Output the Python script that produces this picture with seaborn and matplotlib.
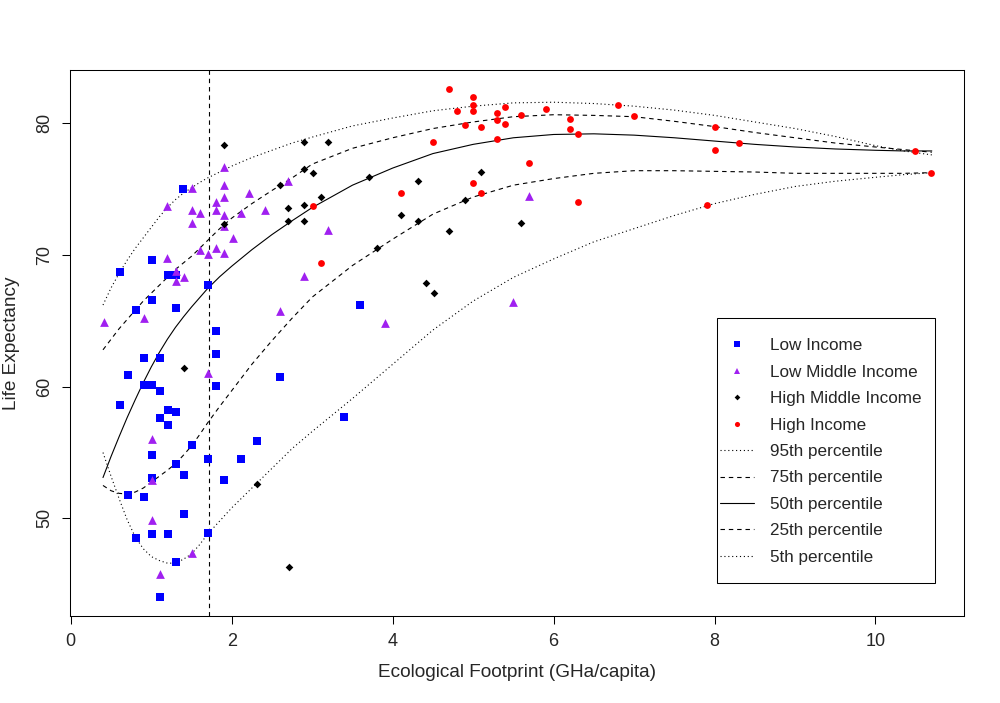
import pandas as pd
import matplotlib
matplotlib.use("Agg")
import matplotlib.pyplot as plt
from matplotlib.lines import Line2D
from matplotlib.patches import Rectangle
import seaborn as sns

# Scatter data (Ecological footprint, life expectancy)
low_x = [1.40, 0.61, 1.01, 1.21, 1.31, 1.71, 1.01, 0.81, 1.31, 1.80, 1.80, 0.91, 1.11,
         0.71, 0.91, 1.01, 1.11, 1.80, 2.60, 0.61, 1.21, 1.31, 1.11, 1.21, 1.01, 1.51,
         1.71, 2.11, 2.31, 1.31, 1.41, 1.90, 1.01, 0.71, 0.91, 1.41, 0.81, 1.01, 1.21,
         1.71, 1.31, 1.11, 3.59, 3.40]
low_y = [75.0, 68.7, 69.6, 68.45, 68.5, 67.7, 66.6, 65.8, 66.0, 64.2, 62.5, 62.2, 62.2,
         60.9, 60.15, 60.15, 59.7, 60.05, 60.7, 58.6, 58.2, 58.1, 57.6, 57.1, 54.85, 55.6,
         54.5, 54.5, 55.9, 54.1, 53.3, 52.9, 53.1, 51.8, 51.6, 50.35, 48.5, 48.8, 48.8,
         48.9, 46.7, 44.05, 66.2, 57.7]

lowmid_x = [1.90, 1.51, 1.90, 2.21, 1.80, 1.90, 1.20, 1.51, 1.61, 1.80, 1.90, 2.11, 1.51,
            1.90, 2.01, 1.61, 1.80, 1.71, 1.90, 1.20, 1.31, 1.41, 1.31, 0.41, 0.91, 2.41,
            2.70, 2.60, 2.90, 3.20, 3.90, 5.70, 5.50, 1.71, 1.01, 1.01, 1.01, 1.51, 1.11]
lowmid_y = [76.7, 75.1, 75.3, 74.7, 74.0, 74.4, 73.7, 73.4, 73.2, 73.45, 73.07, 73.2, 72.4,
            72.2, 71.3, 70.4, 70.5, 70.1, 70.15, 69.8, 68.8, 68.3, 68.0, 64.9, 65.2, 73.4,
            75.6, 65.75, 68.4, 71.9, 64.8, 74.5, 66.4, 61.05, 56.0, 52.95, 49.9, 47.4, 45.8]

highmid_x = [1.90, 2.90, 3.20, 2.90, 3.01, 2.60, 3.71, 3.11, 2.70, 2.90, 2.70, 2.90, 3.80,
             1.90, 4.31, 5.10, 4.10, 4.31, 4.90, 4.70, 5.60, 4.41, 4.51, 1.41, 2.31, 2.71]
highmid_y = [78.35, 78.55, 78.6, 76.55, 76.25, 75.3, 75.9, 74.4, 73.55, 73.83, 72.6, 72.56, 70.5,
             72.36, 75.6, 76.3, 73.0, 72.6, 74.2, 71.8, 72.4, 67.9, 67.1, 61.4, 52.6, 46.3]

high_x = [3.01, 3.11, 4.70, 5.00, 5.00, 4.80, 5.00, 5.40, 5.30, 5.60, 5.90, 6.80, 5.30,
          6.20, 4.90, 5.10, 5.40, 6.20, 6.30, 5.30, 4.50, 5.70, 4.10, 5.00, 5.10, 6.30,
          7.00, 8.00, 8.30, 8.00, 10.49, 10.69, 7.90]
high_y = [73.7, 69.4, 82.6, 82.0, 81.4, 80.97, 80.9, 81.2, 80.8, 80.6, 81.1, 81.4, 80.25,
          80.3, 79.87, 79.75, 79.98, 79.6, 79.16, 78.8, 78.6, 77.0, 74.7, 75.5, 74.67, 74.0,
          80.55, 79.7, 78.5, 78.0, 77.9, 76.2, 73.8]

# Quantile curves, read at a common set of footprint values
curve_x = [0.4, 0.5, 0.6, 0.7, 0.8, 0.9, 1.0, 1.1, 1.2, 1.3, 1.4, 1.5, 1.6, 1.7, 1.85,
           2.0, 2.25, 2.5, 2.75, 3.0, 3.5, 4.0, 4.5, 5.0, 5.5, 6.0, 6.5, 7.0, 7.5, 8.0,
           8.5, 9.0, 9.5, 10.0, 10.35, 10.7]
p95 = [66.2, 67.5, 68.6, 69.6, 70.5, 71.3, 72.1, 72.9, 73.6, 74.2, 74.7, 75.1, 75.5, 75.85, 76.3,
       76.75, 77.4, 77.95, 78.5, 78.95, 79.8, 80.4, 80.95, 81.3, 81.55, 81.6, 81.5, 81.3, 81.0, 80.6,
       80.1, 79.6, 79.0, 78.3, 77.9, 77.6]
p75 = [62.8, 63.6, 64.4, 65.1, 65.8, 66.5, 67.1, 67.7, 68.3, 68.9, 69.4, 69.9, 70.5, 71.1, 72.0,
       72.8, 73.9, 74.9, 75.85, 76.9, 78.1, 78.9, 79.6, 80.1, 80.5, 80.65, 80.6, 80.5, 80.15, 79.75,
       79.3, 78.9, 78.5, 78.2, 78.0, 77.8]
p50 = [53.1, 54.7, 56.2, 57.65, 59.0, 60.3, 61.5, 62.6, 63.6, 64.5, 65.3, 66.05, 66.75, 67.45, 68.35,
       69.15, 70.4, 71.55, 72.6, 73.6, 75.3, 76.6, 77.7, 78.4, 78.9, 79.15, 79.2, 79.1, 78.9, 78.65,
       78.4, 78.2, 78.05, 77.95, 77.9, 77.9]
p25 = [52.5, 52.1, 51.9, 51.85, 52.0, 52.3, 52.75, 53.2, 53.65, 54.15, 54.8, 55.5, 56.35, 57.25, 58.5,
       59.7, 61.7, 63.5, 65.2, 66.8, 69.2, 71.2, 73.1, 74.4, 75.3, 75.8, 76.2, 76.4, 76.4, 76.35,
       76.3, 76.2, 76.2, 76.2, 76.2, 76.25]
p5 = [55.0, 53.2, 51.5, 49.9, 48.6, 47.7, 47.1, 46.8, 46.6, 46.6, 46.9, 47.3, 48.0, 48.8, 49.8,
      50.8, 52.3, 53.8, 55.3, 56.6, 59.1, 61.7, 64.3, 66.5, 68.3, 69.7, 71.0, 72.0, 73.0, 73.9,
      74.6, 75.2, 75.6, 75.9, 76.1, 76.25]

threshold = 1.714

groups = ["Low Income", "Low Middle Income", "High Middle Income", "High Income"]
percentiles = ["95th percentile", "75th percentile", "50th percentile",
               "25th percentile", "5th percentile"]

points = pd.concat([
    pd.DataFrame({"x": low_x, "y": low_y, "group": groups[0]}),
    pd.DataFrame({"x": lowmid_x, "y": lowmid_y, "group": groups[1]}),
    pd.DataFrame({"x": highmid_x, "y": highmid_y, "group": groups[2]}),
    pd.DataFrame({"x": high_x, "y": high_y, "group": groups[3]}),
], ignore_index=True)

curves = pd.concat([
    pd.DataFrame({"x": curve_x, "y": vals, "pct": name})
    for name, vals in zip(percentiles, [p95, p75, p50, p25, p5])
], ignore_index=True)

colors = {groups[0]: "#0000FF", groups[1]: "#A020F0",
          groups[2]: "#000000", groups[3]: "#FF0000"}
markers = {groups[0]: "s", groups[1]: "^", groups[2]: "D", groups[3]: "o"}
msize = {groups[0]: 5.3, groups[1]: 6.3, groups[2]: 3.9, groups[3]: 4.9}

dotted = (1, 2.5)
dashed = (4, 3.5)
pct_dashes = {percentiles[0]: dotted, percentiles[1]: dashed, percentiles[2]: "",
              percentiles[3]: dashed, percentiles[4]: dotted}

sns.set_style("white")
plt.rcParams["font.family"] = ["Liberation Sans", "DejaVu Sans"]

fig = plt.figure(figsize=(10, 7.03), dpi=100)
ax = fig.add_axes([0.07, 0.1238, 0.894, 0.7767])

for g in groups:
    sns.scatterplot(data=points[points["group"] == g], x="x", y="y",
                    color=colors[g], marker=markers[g], s=msize[g] ** 2,
                    linewidth=0, ax=ax, legend=False, zorder=3)

sns.lineplot(data=curves, x="x", y="y", style="pct", dashes=pct_dashes,
             color="black", linewidth=0.8, estimator=None, sort=False,
             ax=ax, legend=False, zorder=2)

ax.axvline(threshold, color="black", linewidth=0.8, linestyle=(0, dashed))

ax.set_xlim(-0.01, 11.1)
ax.set_ylim(42.59, 84.05)
ax.set_xticks([0, 2, 4, 6, 8, 10])
ax.set_yticks([50, 60, 70, 80])
ax.tick_params(direction="out", length=5.8, width=0.75, pad=6.5,
               labelsize=13, color="black", left=True, bottom=True)
for lab in ax.get_yticklabels():
    lab.set_rotation(90)
    lab.set_va("center")
for sp in ax.spines.values():
    sp.set_visible(True)
    sp.set_color("black")
    sp.set_linewidth(0.75)

ax.set_xlabel("Ecological Footprint (GHa/capita)", fontsize=13.7)
ax.set_ylabel("Life Expectancy", fontsize=13.7)
ax.xaxis.set_label_coords(0.5, -0.088)
ax.yaxis.set_label_coords(-0.056, 0.5)

# legend: frame drawn separately to match the reference box
handles = [Line2D([], [], linestyle="none", marker=markers[g], color=colors[g],
                  markersize=msize[g] * 0.75, markeredgewidth=0) for g in groups]
for name in percentiles:
    d = pct_dashes[name]
    ls = "-" if d == "" else (0, d)
    handles.append(Line2D([], [], color="black", linewidth=0.8, linestyle=ls))
ax.legend(handles, groups + percentiles, loc="upper left",
          bbox_to_anchor=(0.7271, 0.5086), bbox_transform=ax.transAxes,
          frameon=False, borderpad=0, borderaxespad=0, handlelength=2.0,
          handletextpad=0.95, labelspacing=0.67, fontsize=12.3)
ax.add_patch(Rectangle((0.7237, 0.0604), 0.2438, 0.4853, transform=ax.transAxes,
                       fill=False, edgecolor="black", linewidth=0.75, zorder=5))

fig.savefig("out.png", dpi=100)
